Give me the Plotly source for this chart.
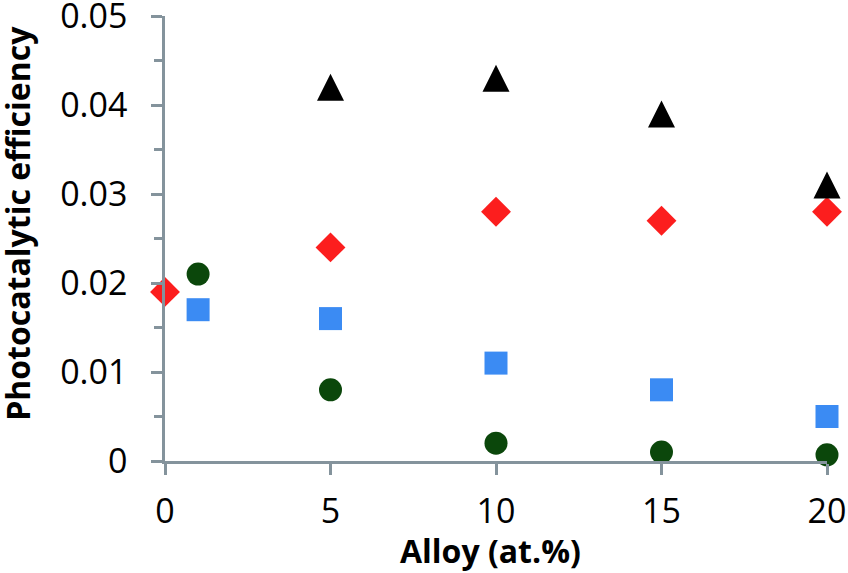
import plotly.graph_objects as go

# Data
tri_x = [5, 10, 15, 20]
tri_y = [0.042, 0.043, 0.039, 0.031]
dia_x = [0, 5, 10, 15, 20]
dia_y = [0.019, 0.024, 0.028, 0.027, 0.028]
sq_x = [1, 5, 10, 15, 20]
sq_y = [0.017, 0.016, 0.011, 0.008, 0.005]
circ_x = [1, 5, 10, 15, 20]
circ_y = [0.021, 0.008, 0.002, 0.001, 0.0007]

x_ticks = [0, 5, 10, 15, 20]
y_ticks = [0, 0.01, 0.02, 0.03, 0.04, 0.05]
y_tick_text = ["0", "0.01", "0.02", "0.03", "0.04", "0.05"]

axis_color = "#84939c"
font_family = "Open Sans"

fig = go.Figure()
series = [
    (circ_x, circ_y, dict(symbol="circle", size=23, color="#0b470b")),
    (sq_x, sq_y, dict(symbol="square", size=23, color="#3b8bf3")),
    (dia_x, dia_y, dict(symbol="diamond", size=23, color="#fc1e1e")),
    # equilateral-looking triangle centred on the point: a down-arrow turned 180 degrees
    (tri_x, tri_y, dict(symbol="arrow-down", size=27, color="#000000", angle=180, standoff=13.5)),
]
for xs, ys, mk in series:
    mk["line"] = dict(width=0)
    fig.add_trace(go.Scatter(
        x=xs, y=ys, mode="markers", marker=mk,
        cliponaxis=False, showlegend=False, hoverinfo="x+y",
    ))

fig.update_layout(
    width=848, height=573,
    margin=dict(l=165, r=21, t=16, b=112, autoexpand=False),
    paper_bgcolor="white", plot_bgcolor="white",
    font=dict(family=font_family, color="black"),
    annotations=[
        dict(text="<b>Alloy (at.%)</b>", xref="paper", yref="paper",
             x=0.491, y=-0.2, showarrow=False, xanchor="center", yanchor="middle",
             font=dict(size=32, family=font_family, color="black")),
        dict(text="<b>Photocatalytic efficiency</b>", xref="paper", yref="paper",
             x=-0.222, y=0.533, showarrow=False, xanchor="center", yanchor="middle",
             textangle=-90, font=dict(size=32, family=font_family, color="black")),
    ],
)
fig.update_xaxes(
    range=[0, 20], tickmode="array", tickvals=x_ticks,
    ticks="outside", ticklen=11, tickwidth=2.5, tickcolor=axis_color,
    showline=True, linecolor=axis_color, linewidth=2.5,
    showgrid=False, zeroline=False, automargin=False,
    ticklabeloverflow="allow", ticklabelstandoff=7,
    tickfont=dict(size=34, family=font_family),
)
fig.update_yaxes(
    range=[0, 0.05000001], tickmode="array", tickvals=y_ticks, ticktext=y_tick_text,
    ticks="outside", ticklen=11, tickwidth=2.5, tickcolor=axis_color,
    minor=dict(dtick=0.005, ticks="outside", ticklen=8, tickwidth=2.5, tickcolor=axis_color, showgrid=False),
    showline=True, linecolor=axis_color, linewidth=2.5,
    showgrid=False, zeroline=False, automargin=False,
    ticklabeloverflow="allow", ticklabelstandoff=17,
    tickfont=dict(size=34, family=font_family),
)

# remove the browser's default 8px body margin so the figure sits at the page origin
fig.write_html("out.html", config={"displayModeBar": False},
               post_script="document.body.style.margin='0px';")
